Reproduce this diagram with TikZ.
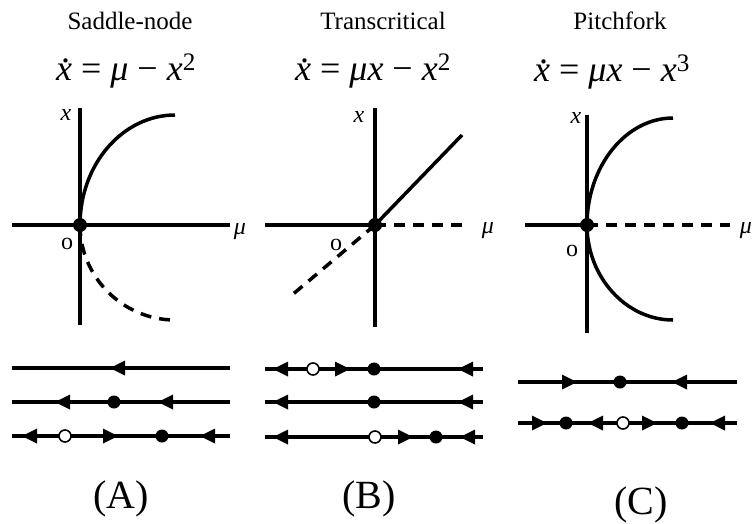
\documentclass[tikz,border=0pt]{standalone}
\usepackage{fontspec}
\setmainfont{Liberation Serif}
\usetikzlibrary{positioning}

\newcommand{\xdot}{\makebox[0pt][l]{\hspace{0.14em}\raisebox{0.5em}{\textup{.}}}\textit{x}}

\begin{document}
\begin{tikzpicture}[
    x=1pt, y=-1pt,
    axis/.style={line width=4.5pt},
    branch/.style={line width=3.5pt},
    dashes/.style={dash pattern=on 11pt off 8pt},
    phase/.style={line width=4pt},
    sink/.style={circle, fill, minimum size=13pt, inner sep=0pt},
    source/.style={circle, draw, fill=white, line width=1.6pt, minimum size=12pt, inner sep=0pt},
    title/.style={anchor=base, font=\fontsize{25}{30}\selectfont},
    eqn/.style={anchor=base, font=\fontsize{36}{42}\selectfont},
    lbl/.style={anchor=base, font=\fontsize{24}{28}\selectfont\itshape},
    zero/.style={anchor=base, font=\fontsize{24}{28}\selectfont},
    tag/.style={anchor=base, font=\fontsize{40}{48}\selectfont},
    flowL/.pic={\fill (0,0) -- (15,-7.5) -- (15,7.5) -- cycle;},
    flowR/.pic={\fill (0,0) -- (-15,-7.5) -- (-15,7.5) -- cycle;}
]
\useasboundingbox (0,0) rectangle (752,523);

% --- Titles and equations ---
\node[title] (tA) at (130,29) {Saddle-node};
\node[title] (tB) at (383,29) {Transcritical};
\node[title] (tC) at (620,29) {Pitchfork};
\node[eqn] (eA) at (126,80) {\xdot{} = \textit{μ} − \textit{x}\textsuperscript{2}};
\node[eqn] (eB) at (373,80) {\xdot{} = \textit{μx} − \textit{x}\textsuperscript{2}};
\node[eqn] (eC) at (612,81) {\xdot{} = \textit{μx} − \textit{x}\textsuperscript{3}};

% --- (A) saddle-node ---
\coordinate (A-o) at (80,225);
\coordinate (A-l) at (12,225);
\coordinate (A-r) at (230,225);
\coordinate (A-t) at (80,108);
\coordinate (A-b) at (80,325);
\coordinate (A-up) at (175,115);
\coordinate (A-dn) at (175,320);
\draw[axis] (A-l) -- (A-r);
\draw[axis] (A-t) -- (A-b);
\draw[branch] (A-o) .. controls (80,164) and (123,115) .. (A-up);
\draw[branch, dashes] (A-o) .. controls (80,277) and (123,320) .. (A-dn);
\node[sink, minimum size=14pt] (A-fix) at (A-o) {};
\node[lbl] (A-x) at (66,120) {x};
\node[lbl] (A-mu) at (240,234) {μ};
\node[zero] (A-zero) at (67,249) {o};

% --- (B) transcritical ---
\coordinate (B-o) at (375,225);
\coordinate (B-l) at (265,225);
\coordinate (B-r) at (470,225);
\coordinate (B-t) at (375,108);
\coordinate (B-b) at (375,327);
\coordinate (B-up) at (462,135);
\coordinate (B-dn) at (292,295);
\draw[axis] (B-l) -- (B-o);
\draw[axis, dashes] (B-o) -- (B-r);
\draw[axis] (B-t) -- (B-b);
\draw[branch] (B-o) -- (B-up);
\draw[branch, dashes] (B-o) -- (B-dn);
\node[sink, minimum size=14pt] (B-fix) at (B-o) {};
\node[lbl] (B-x) at (359,122) {x};
\node[lbl] (B-mu) at (488,233) {μ};
\node[zero] (B-zero) at (336,250) {o};

% --- (C) pitchfork ---
\coordinate (C-o) at (587,225);
\coordinate (C-l) at (525,225);
\coordinate (C-r) at (730,225);
\coordinate (C-t) at (587,115);
\coordinate (C-b) at (587,333);
\coordinate (C-up) at (673,118);
\coordinate (C-dn) at (673,320);
\draw[axis] (C-l) -- (C-o);
\draw[axis, dashes] (C-o) -- (C-r);
\draw[axis] (C-t) -- (C-b);
\draw[branch] (C-o) .. controls (587,166) and (626,118) .. (C-up);
\draw[branch] (C-o) .. controls (587,277) and (626,320) .. (C-dn);
\node[sink, minimum size=14pt] (C-fix) at (C-o) {};
\node[lbl] (C-x) at (576,123) {x};
\node[lbl] (C-mu) at (746,233) {μ};
\node[zero] (C-zero) at (572,256) {o};

% --- Phase lines ---
\foreach \row/\y/\xa/\xb in {A1/368/12/230, A2/402/12/230, A3/436/12/230,
    B1/369/265/483, B2/402/265/483, B3/437/265/483, C1/382/518/737, C2/423/518/737}
{
    \coordinate (\row-s) at (\xa,\y);
    \coordinate (\row-e) at (\xb,\y);
    \draw[phase] (\row-s) -- (\row-e);
}
\foreach \x/\y in {110/368, 55/402, 158/402, 22/436, 200/436, 273/369, 458/369,
    273/402, 458/402, 273/437, 460/437, 672/382, 588/423, 710/423}
    \pic at (\x,\y) {flowL};
\foreach \x/\y in {118/436, 350/369, 413/437, 577/382, 547/423, 657/423}
    \pic at (\x,\y) {flowR};
\foreach \n/\x/\y in {A2/114/402, A3/162/436, B1/374/369, B2/374/402, B3/436/437,
    C1/620/382, C2a/566/423, C2b/682/423}
    \node[sink] (sink-\n) at (\x,\y) {};
\foreach \n/\x/\y in {A3/65/436, B1/313/369, B3/375/437, C2/623/423}
    \node[source] (src-\n) at (\x,\y) {};

% --- Panel tags ---
\node[tag] (gA) at (121,508) {(A)};
\node[tag] (gB) at (369,508) {(B)};
\node[tag] (gC) at (641,514) {(C)};

\end{tikzpicture}
\end{document}
